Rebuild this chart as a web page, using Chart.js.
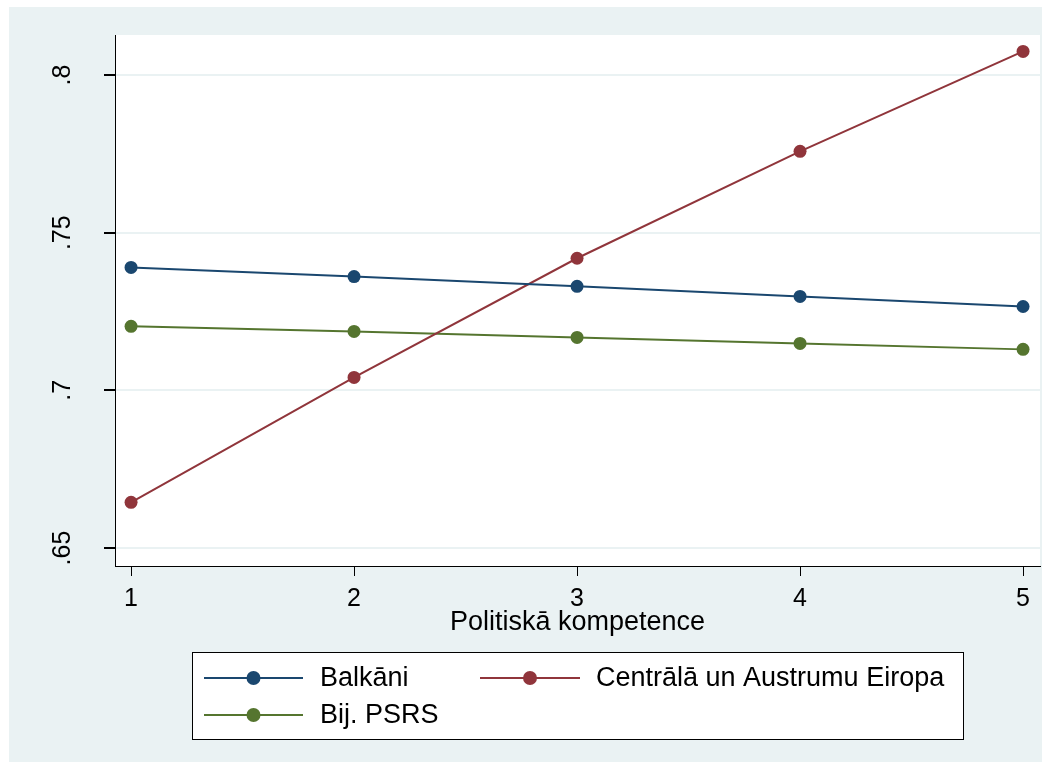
<!DOCTYPE html>
<html>
<head>
<meta charset="utf-8">
<script src="https://cdn.jsdelivr.net/npm/chart.js@4/dist/chart.umd.min.js"></script>
<style>
html,body{margin:0;padding:0;background:#fff;}
#wrap{width:1055px;height:769px;position:relative;}
</style>
</head>
<body>
<div id="wrap"><canvas id="c" width="1055" height="769"></canvas></div>
<script>
const categories = [1, 2, 3, 4, 5];
const balkani = [0.7390, 0.7361, 0.7330, 0.7298, 0.7266];
const centrala = [0.6645, 0.7041, 0.7419, 0.7758, 0.8075];
const bijPsrs = [0.7203, 0.7187, 0.7168, 0.7149, 0.7130];
const yTickValues = [0.65, 0.7, 0.75, 0.8];
const yTickLabels = ['.65', '.7', '.75', '.8'];
const xTickValues = [1, 2, 3, 4, 5];
const seriesNames = ['Balkāni', 'Centrālā un Austrumu Eiropa', 'Bij. PSRS'];
const xTitle = 'Politiskā kompetence';

const colors = ['#1a476f', '#90353b', '#55752f'];
const FONT = 'Liberation Sans, Arial, sans-serif';

function mk(vals){ return categories.map((c,i)=>({x:c, y:vals[i]})); }

const bgPlugin = {
  id:'bg',
  beforeDraw(chart){
    const ctx = chart.ctx;
    ctx.save();
    ctx.fillStyle = '#fff';
    ctx.fillRect(0,0,chart.width,chart.height);
    ctx.fillStyle = '#eaf2f3';
    ctx.fillRect(9,7,1033,755);
    const a = chart.chartArea;
    ctx.fillStyle = '#fff';
    ctx.fillRect(a.left, a.top, a.right-a.left, a.bottom-a.top);
    ctx.restore();
  },
  afterDraw(chart){
    const ctx = chart.ctx;
    const ys = chart.scales.y;
    ctx.save();
    ctx.fillStyle = '#000';
    ctx.font = '25px ' + FONT;
    ctx.textAlign = 'center';
    ctx.textBaseline = 'middle';
    yTickValues.forEach((v,i)=>{
      const py = ys.getPixelForValue(v);
      ctx.save();
      ctx.translate(63, py);
      ctx.rotate(-Math.PI/2);
      ctx.fillText(yTickLabels[i], 0, 0);
      ctx.restore();
    });
    // legend
    const bx=192, by=652, bw=771, bh=87;
    ctx.fillStyle='#fff';
    ctx.fillRect(bx,by,bw,bh);
    ctx.strokeStyle='#000';
    ctx.lineWidth=1;
    ctx.strokeRect(bx+0.5,by+0.5,bw,bh);
    const items = [
      {x1:204, x2:303, y:678, tx:320, i:0},
      {x1:480, x2:580, y:678, tx:596, i:1},
      {x1:204, x2:303, y:715, tx:320, i:2}
    ];
    ctx.font = '27px ' + FONT;
    ctx.textAlign='left';
    ctx.textBaseline='middle';
    items.forEach(it=>{
      const c = colors[it.i];
      ctx.strokeStyle=c; ctx.lineWidth=2;
      ctx.beginPath(); ctx.moveTo(it.x1,it.y); ctx.lineTo(it.x2,it.y); ctx.stroke();
      ctx.fillStyle=c;
      ctx.beginPath(); ctx.arc((it.x1+it.x2)/2, it.y, 7, 0, Math.PI*2); ctx.fill();
      ctx.fillStyle='#000';
      ctx.fillText(seriesNames[it.i], it.tx, it.y+1);
    });
    ctx.restore();
  }
};

new Chart(document.getElementById('c'), {
  type:'line',
  data:{
    datasets:[
      {label:seriesNames[0], data:mk(balkani), borderColor:colors[0], backgroundColor:colors[0]},
      {label:seriesNames[1], data:mk(centrala), borderColor:colors[1], backgroundColor:colors[1]},
      {label:seriesNames[2], data:mk(bijPsrs), borderColor:colors[2], backgroundColor:colors[2]}
    ].map(d=>Object.assign(d,{borderWidth:2, pointRadius:6.5, pointHoverRadius:6.5, pointBorderWidth:0, tension:0, fill:false}))
  },
  options:{
    responsive:false,
    animation:false,
    events:[],
    layout:{padding:{left:55, top:35, right:15, bottom:133}},
    plugins:{legend:{display:false}, tooltip:{enabled:false}},
    scales:{
      x:{
        type:'linear', min:0.928, max:5.076,
        afterBuildTicks(s){ s.ticks = xTickValues.map(v=>({value:v})); },
        afterFit(s){ s.height = 70; },
        grid:{drawOnChartArea:false, tickColor:'#000', tickLength:10, lineWidth:1},
        border:{color:'#000', width:1},
        ticks:{color:'#000', font:{family:FONT, size:25}, padding:8, maxRotation:0, callback:v=>String(v)},
        title:{display:true, text:xTitle, color:'#000', font:{family:FONT, size:27}, padding:{top:-4, bottom:-3}}
      },
      y:{
        type:'linear', min:0.6443, max:0.8127,
        afterBuildTicks(s){ s.ticks = yTickValues.map(v=>({value:v})); },
        afterFit(s){ s.width = 60; },
        grid:{color:'#eaf2f3', lineWidth:2, tickColor:'#000', tickLength:11},
        border:{color:'#000', width:1},
        ticks:{display:false}
      }
    }
  },
  plugins:[bgPlugin]
});
</script>
</body>
</html>
